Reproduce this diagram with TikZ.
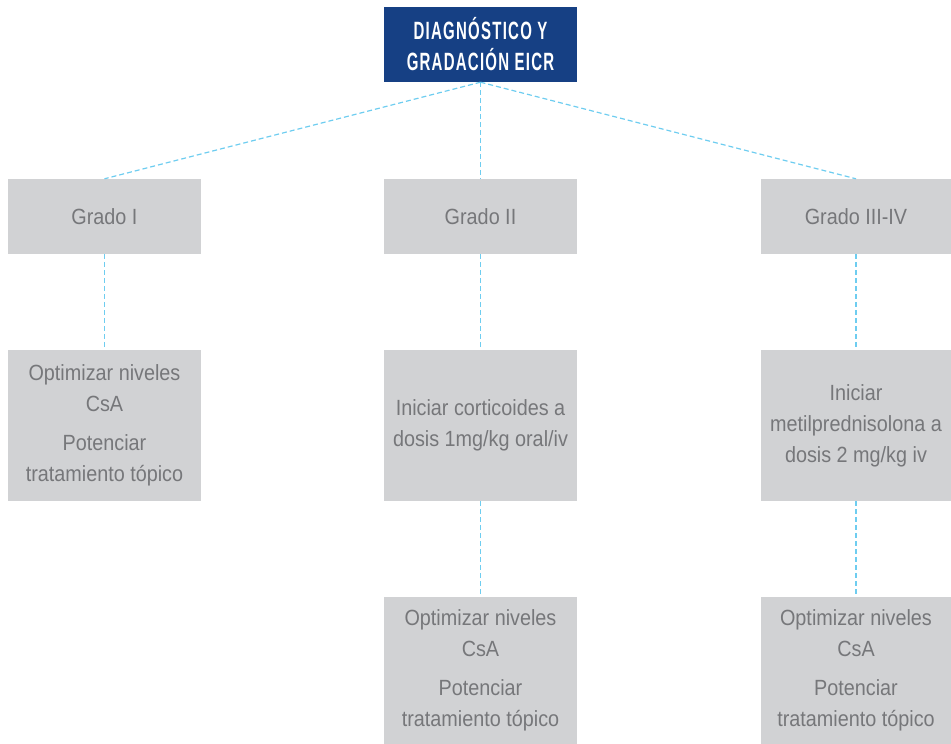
\documentclass[tikz,border=0pt]{standalone}
\usepackage{fontspec}
\setmainfont{Liberation Sans}
\newfontfamily\boxfont[FakeStretch=0.9]{Liberation Sans}
\newfontfamily\headfont[FakeStretch=0.6, LetterSpace=5]{Liberation Sans}
\usepackage{tikz}
\usetikzlibrary{positioning}
\usepackage{xcolor}
\definecolor{eicrblue}{RGB}{22,64,132}
\definecolor{eicrgray}{RGB}{209,210,212}
\definecolor{eicrtext}{RGB}{118,119,122}
\definecolor{eicrline}{RGB}{110,205,240}
\tikzstyle{headbox} = [fill=eicrblue, text=white, inner sep=0pt, minimum width=193pt, minimum height=75pt, align=center, font=\headfont\bfseries\fontsize{25}{31}\selectfont]
\tikzstyle{gradebox} = [fill=eicrgray, text=eicrtext, inner sep=0pt, minimum width=193pt, minimum height=75pt, align=center, font=\boxfont\fontsize{22}{31}\selectfont]
\tikzstyle{actbox} = [gradebox, minimum height=151pt]
\tikzstyle{link} = [line width=1.2pt, eicrline, dash pattern=on 5pt off 3pt]

\begin{document}
\begin{tikzpicture}[x=1pt, y=-1pt]
\useasboundingbox (0,0) rectangle (951,744);
% Diagnosis at the top
\node[headbox] (diag) at (480.5,44.5) {DIAGNÓSTICO Y\\GRADACIÓN EICR};

% Grades
\node[gradebox] (g1) at (104.5,216.5) {Grado I};
\node[gradebox] (g2) at (480.5,216.5) {Grado II};
\node[gradebox, minimum width=190pt] (g3) at (856,216.5) {Grado III-IV};

% First actions
\node[actbox] (a1) at (104.5,425.5) {Optimizar niveles\\CsA\\[8pt]Potenciar\\tratamiento tópico};
\node[actbox] (a2) at (480.5,425.5) {Iniciar corticoides a\\dosis 1mg/kg oral/iv};
\node[actbox, minimum width=190pt] (a3) at (856,425.5) {Iniciar\\metilprednisolona a\\dosis 2 mg/kg iv};

% Second actions
\node[actbox, minimum height=147pt] (b2) at (480.5,670.5) {Optimizar niveles\\CsA\\[8pt]Potenciar\\tratamiento tópico};
\node[actbox, minimum height=147pt, minimum width=190pt] (b3) at (856,670.5) {Optimizar niveles\\CsA\\[8pt]Potenciar\\tratamiento tópico};

% Connections
\foreach \g in {g1,g2,g3} {
    \draw[link] (diag.south) -- (\g.north);
}
\draw[link] (g1) -- (a1);
\draw[link] (g2) -- (a2);
\draw[link] (g3) -- (a3);
\draw[link] (a2) -- (b2);
\draw[link] (a3) -- (b3);
\end{tikzpicture}
\end{document}
